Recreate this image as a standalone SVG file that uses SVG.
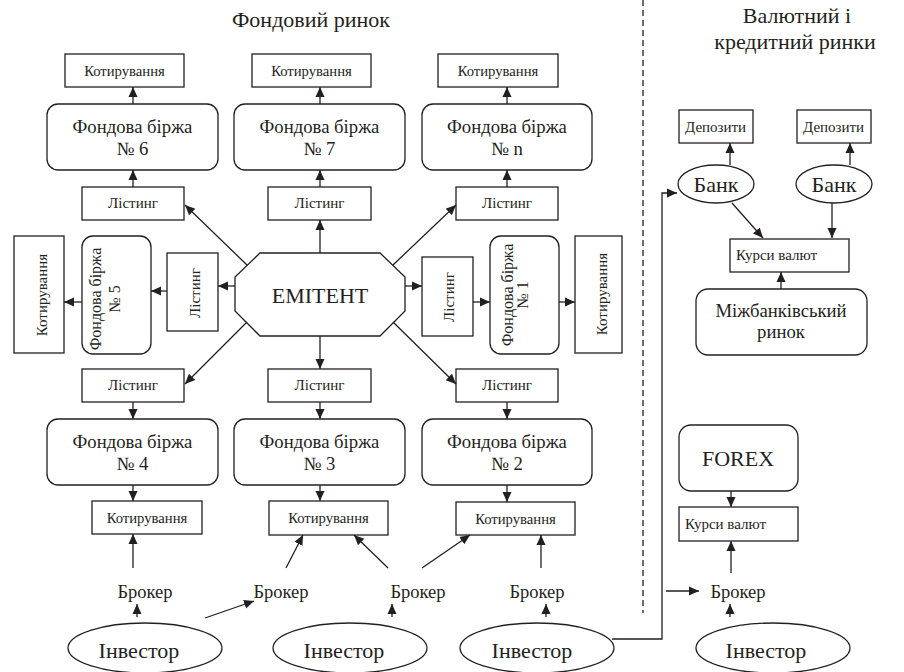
<svg xmlns="http://www.w3.org/2000/svg" width="904" height="672" viewBox="0 0 904 672">
<style>
.b{fill:#fff;stroke:#231f20;stroke-width:1.3}
.c{fill:none;stroke:#231f20;stroke-width:1.3}
.c line,.c path{marker-end:url(#a)}
svg text{font-family:"Liberation Serif",serif !important;fill:#231f20}
.k{font-size:14.7px}
.l{font-size:15px}
.d{font-size:15px}
.r{font-size:16px}
.f{font-size:18.7px}
.br{font-size:18.5px}
.h{font-size:22px}
</style>
<defs>
<marker id="a" markerWidth="10" markerHeight="10" refX="10" refY="5" orient="auto" markerUnits="userSpaceOnUse"><path d="M0,0.5 L10,5 L0,9.5 z" fill="#231f20"/></marker>
<clipPath id="cl5"><rect x="85" y="237" width="65" height="116"/></clipPath>
<clipPath id="cl1"><rect x="499" y="237" width="59" height="116"/></clipPath>
</defs>
<g font-family="Liberation Serif" text-anchor="middle">
<g id="titles">
<text style="font-family:'Liberation Serif',serif !important" class="h" x="311" y="27">Фондовий ринок</text>
<text style="font-family:'Liberation Serif',serif !important" class="h" x="797" y="23">Валютний і</text>
<text style="font-family:'Liberation Serif',serif !important" class="h" x="795" y="49">кредитний ринки</text>
</g>
<line x1="643" y1="0" x2="643" y2="613" stroke="#231f20" stroke-width="1.3" stroke-dasharray="6,4"/>
<g id="kot6"><rect class="b" x="65" y="54" width="119" height="33"/><text style="font-family:'Liberation Serif',serif !important" class="k" x="124.5" y="76">Котирування</text></g>
<g id="kot7"><rect class="b" x="252" y="54" width="119" height="33"/><text style="font-family:'Liberation Serif',serif !important" class="k" x="311.5" y="76">Котирування</text></g>
<g id="kotn"><rect class="b" x="438" y="54" width="120" height="33"/><text style="font-family:'Liberation Serif',serif !important" class="k" x="498" y="76">Котирування</text></g>
<g id="fb6"><rect class="b" x="47" y="104" width="171" height="66" rx="11"/><text style="font-family:'Liberation Serif',serif !important" class="f" x="132.5" y="133">Фондова біржа</text><text style="font-family:'Liberation Serif',serif !important" class="f" x="132.5" y="155">№ 6</text></g>
<g id="fb7"><rect class="b" x="234" y="104" width="171" height="66" rx="11"/><text style="font-family:'Liberation Serif',serif !important" class="f" x="319.5" y="133">Фондова біржа</text><text style="font-family:'Liberation Serif',serif !important" class="f" x="319.5" y="155">№ 7</text></g>
<g id="fbn"><rect class="b" x="422" y="104" width="170" height="66" rx="11"/><text style="font-family:'Liberation Serif',serif !important" class="f" x="507" y="133">Фондова біржа</text><text style="font-family:'Liberation Serif',serif !important" class="f" x="507" y="155">№ n</text></g>
<g id="lst6"><rect class="b" x="82" y="187" width="102" height="33"/><text style="font-family:'Liberation Serif',serif !important" class="l" x="133" y="208">Лістинг</text></g>
<g id="lst7"><rect class="b" x="268" y="187" width="103" height="33"/><text style="font-family:'Liberation Serif',serif !important" class="l" x="319.5" y="208">Лістинг</text></g>
<g id="lstn"><rect class="b" x="456" y="187" width="102" height="33"/><text style="font-family:'Liberation Serif',serif !important" class="l" x="507" y="208">Лістинг</text></g>
<g id="kot5"><rect class="b" x="14" y="236" width="50" height="117"/><text style="font-family:'Liberation Serif',serif !important" class="l" transform="translate(47,295) rotate(-90)">Котирування</text></g>
<g id="fb5"><rect class="b" x="82" y="236" width="69" height="118" rx="11"/><g clip-path="url(#cl5)"><text style="font-family:'Liberation Serif',serif !important" class="r" transform="translate(101,299) rotate(-90)">Фондова біржа</text><text style="font-family:'Liberation Serif',serif !important" class="r" transform="translate(120,299) rotate(-90)">№ 5</text></g></g>
<g id="lst5"><rect class="b" x="167" y="253" width="51" height="78"/><text style="font-family:'Liberation Serif',serif !important" class="l" transform="translate(200,293) rotate(-90)">Лістинг</text></g>
<g id="emitent"><polygon class="b" points="260,253 380,253 405,277 405,311 380,336 260,336 235,311 235,277"/><text style="font-family:'Liberation Serif',serif !important" class="h" x="320" y="303">ЕМІТЕНТ</text></g>
<g id="lst1"><rect class="b" x="422" y="257" width="51" height="79"/><text style="font-family:'Liberation Serif',serif !important" class="l" transform="translate(454,297) rotate(-90)">Лістинг</text></g>
<g id="fb1"><rect class="b" x="490" y="236" width="69" height="118" rx="11"/><g clip-path="url(#cl1)"><text style="font-family:'Liberation Serif',serif !important" class="r" transform="translate(513,295) rotate(-90)">Фондова біржа</text><text style="font-family:'Liberation Serif',serif !important" class="r" transform="translate(528,295) rotate(-90)">№ 1</text></g></g>
<g id="kot1"><rect class="b" x="575" y="236" width="47" height="117"/><text style="font-family:'Liberation Serif',serif !important" class="l" transform="translate(607,294) rotate(-90)">Котирування</text></g>
<g id="lst4"><rect class="b" x="82" y="369" width="102" height="33"/><text style="font-family:'Liberation Serif',serif !important" class="l" x="133" y="390">Лістинг</text></g>
<g id="lst3"><rect class="b" x="268" y="369" width="103" height="33"/><text style="font-family:'Liberation Serif',serif !important" class="l" x="319.5" y="390">Лістинг</text></g>
<g id="lst2"><rect class="b" x="456" y="369" width="102" height="33"/><text style="font-family:'Liberation Serif',serif !important" class="l" x="507" y="390">Лістинг</text></g>
<g id="fb4"><rect class="b" x="47" y="419" width="171" height="66" rx="11"/><text style="font-family:'Liberation Serif',serif !important" class="f" x="132.5" y="448">Фондова біржа</text><text style="font-family:'Liberation Serif',serif !important" class="f" x="132.5" y="470">№ 4</text></g>
<g id="fb3"><rect class="b" x="234" y="419" width="171" height="66" rx="11"/><text style="font-family:'Liberation Serif',serif !important" class="f" x="319.5" y="448">Фондова біржа</text><text style="font-family:'Liberation Serif',serif !important" class="f" x="319.5" y="470">№ 3</text></g>
<g id="fb2"><rect class="b" x="422" y="419" width="170" height="66" rx="11"/><text style="font-family:'Liberation Serif',serif !important" class="f" x="507" y="448">Фондова біржа</text><text style="font-family:'Liberation Serif',serif !important" class="f" x="507" y="470">№ 2</text></g>
<g id="kot4"><rect class="b" x="92" y="501" width="110" height="33"/><text style="font-family:'Liberation Serif',serif !important" class="k" x="147" y="523">Котирування</text></g>
<g id="kot3"><rect class="b" x="269" y="501" width="119" height="34"/><text style="font-family:'Liberation Serif',serif !important" class="k" x="328.5" y="523">Котирування</text></g>
<g id="kot2"><rect class="b" x="456" y="502" width="119" height="33"/><text style="font-family:'Liberation Serif',serif !important" class="k" x="515.5" y="524">Котирування</text></g>
<g id="br1"><text style="font-family:'Liberation Serif',serif !important" class="br" x="145" y="598">Брокер</text></g>
<g id="br2"><text style="font-family:'Liberation Serif',serif !important" class="br" x="281" y="598">Брокер</text></g>
<g id="br3"><text style="font-family:'Liberation Serif',serif !important" class="br" x="418" y="598">Брокер</text></g>
<g id="br4"><text style="font-family:'Liberation Serif',serif !important" class="br" x="537" y="598">Брокер</text></g>
<g id="inv1"><ellipse class="b" cx="145" cy="648" rx="77" ry="25"/><text style="font-family:'Liberation Serif',serif !important" class="h" x="139" y="658">Інвестор</text></g>
<g id="inv2"><ellipse class="b" cx="350" cy="648" rx="77" ry="25"/><text style="font-family:'Liberation Serif',serif !important" class="h" x="344" y="658">Інвестор</text></g>
<g id="inv3"><ellipse class="b" cx="537" cy="648" rx="77" ry="25"/><text style="font-family:'Liberation Serif',serif !important" class="h" x="532" y="658">Інвестор</text></g>
<g id="dep1"><rect class="b" x="679" y="110" width="74" height="33"/><text style="font-family:'Liberation Serif',serif !important" class="d" text-anchor="start" x="685" y="132">Депозити</text></g>
<g id="dep2"><rect class="b" x="797" y="110" width="74" height="33"/><text style="font-family:'Liberation Serif',serif !important" class="d" text-anchor="start" x="803" y="132">Депозити</text></g>
<g id="bank1"><ellipse class="b" cx="716" cy="184" rx="38" ry="19"/><text style="font-family:'Liberation Serif',serif !important" class="h" x="716" y="192">Банк</text></g>
<g id="bank2"><ellipse class="b" cx="834" cy="184" rx="38" ry="19"/><text style="font-family:'Liberation Serif',serif !important" class="h" x="834" y="192">Банк</text></g>
<g id="kurs1"><rect class="b" x="730" y="239" width="119" height="33"/><text style="font-family:'Liberation Serif',serif !important" class="d" text-anchor="start" x="736" y="260">Курси валют</text></g>
<g id="mizh"><rect class="b" x="696" y="289" width="171" height="66" rx="12"/><text style="font-family:'Liberation Serif',serif !important" class="f" x="781" y="317">Міжбанківський</text><text style="font-family:'Liberation Serif',serif !important" class="f" x="781" y="338">ринок</text></g>
<g id="forex"><rect class="b" x="679" y="425" width="119" height="66" rx="12"/><text style="font-family:'Liberation Serif',serif !important" class="h" x="738" y="466">FOREX</text></g>
<g id="kurs2"><rect class="b" x="679" y="507" width="119" height="34"/><text style="font-family:'Liberation Serif',serif !important" class="d" text-anchor="start" x="685" y="529">Курси валют</text></g>
<g id="br5"><text style="font-family:'Liberation Serif',serif !important" class="br" x="738" y="598">Брокер</text></g>
<g id="inv5"><ellipse class="b" cx="773" cy="648" rx="77" ry="25"/><text style="font-family:'Liberation Serif',serif !important" class="h" x="766" y="658">Інвестор</text></g>
</g>
<g id="connectors" class="c">
<line x1="133" y1="104" x2="133" y2="87"/>
<line x1="320" y1="104" x2="320" y2="87"/>
<line x1="507" y1="104" x2="507" y2="87"/>
<line x1="133" y1="187" x2="133" y2="170"/>
<line x1="320" y1="187" x2="320" y2="170"/>
<line x1="507" y1="187" x2="507" y2="170"/>
<line x1="320" y1="253" x2="320" y2="220"/>
<line x1="320" y1="336" x2="320" y2="369"/>
<line x1="235" y1="286" x2="218" y2="286"/>
<line x1="167" y1="291" x2="151" y2="291"/>
<line x1="82" y1="302" x2="64" y2="302"/>
<line x1="405" y1="286" x2="422" y2="286"/>
<line x1="473" y1="302" x2="490" y2="302"/>
<line x1="559" y1="302" x2="575" y2="302"/>
<line x1="247" y1="265" x2="185" y2="205"/>
<line x1="393" y1="265" x2="456" y2="205"/>
<line x1="247" y1="322" x2="185" y2="384"/>
<line x1="393" y1="322" x2="456" y2="384"/>
<line x1="133" y1="402" x2="133" y2="419"/>
<line x1="320" y1="402" x2="320" y2="419"/>
<line x1="507" y1="402" x2="507" y2="419"/>
<line x1="133" y1="485" x2="133" y2="501"/>
<line x1="320" y1="485" x2="320" y2="501"/>
<line x1="507" y1="485" x2="507" y2="502"/>
<line x1="133" y1="568" x2="133" y2="534"/>
<line x1="137" y1="617" x2="137" y2="604"/>
<line x1="205" y1="618" x2="254" y2="601"/>
<line x1="286" y1="568" x2="303" y2="535"/>
<line x1="388" y1="568" x2="354" y2="535"/>
<line x1="422" y1="568" x2="470" y2="535"/>
<line x1="392" y1="617" x2="392" y2="604"/>
<line x1="541" y1="568" x2="541" y2="535"/>
<line x1="546" y1="617" x2="546" y2="604"/>
<path d="M612,639 H662 V193 H677"/>
<line x1="730" y1="165" x2="730" y2="143"/>
<line x1="850" y1="165" x2="850" y2="143"/>
<line x1="732" y1="203" x2="763" y2="238"/>
<line x1="832" y1="203" x2="832" y2="238"/>
<line x1="781" y1="289" x2="781" y2="272"/>
<line x1="731" y1="491" x2="731" y2="507"/>
<line x1="731" y1="573" x2="731" y2="541"/>
<line x1="666" y1="591" x2="699" y2="591"/>
<line x1="730" y1="617" x2="730" y2="604"/>
</g>
</svg>
